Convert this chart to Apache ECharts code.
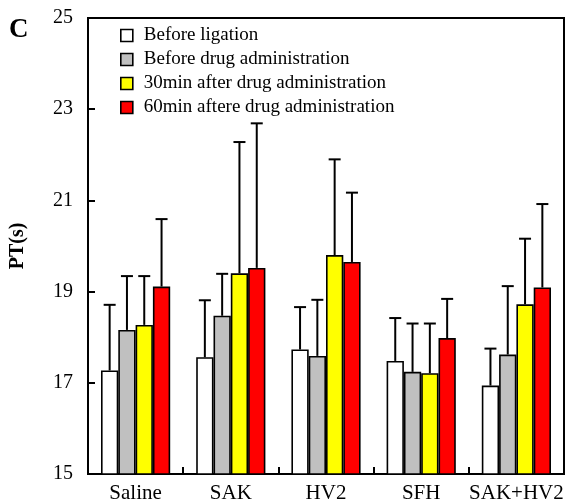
<!DOCTYPE html>
<html>
<head>
<meta charset="utf-8">
<script src="https://cdn.jsdelivr.net/npm/echarts@6/dist/echarts.min.js"></script>
<style>
  html, body { margin: 0; padding: 0; background: #fff; }
  #chart { width: 568px; height: 500px; }
</style>
</head>
<body>
<div id="chart"></div>
<script>
// Prothrombin time (PT) per treatment group, mean and upper SD
const groups = ['Saline', 'SAK', 'HV2', 'SFH', 'SAK+HV2'];
const seriesNames = [
  'Before ligation',
  'Before drug administration',
  '30min after drug administration',
  '60min aftere drug administration'
];
const beforeLigation   = [17.27, 17.56, 17.73, 17.48, 16.94];
const beforeDrug       = [18.16, 18.47, 17.59, 17.24, 17.62];
const after30          = [18.27, 19.40, 19.80, 17.21, 18.72];
const after60          = [19.11, 19.52, 19.65, 17.98, 19.09];
const sdBeforeLigation = [1.44, 1.25, 0.93, 0.94, 0.81];
const sdBeforeDrug     = [1.18, 0.92, 1.23, 1.06, 1.50];
const sdAfter30        = [1.07, 2.88, 2.10, 1.09, 1.44];
const sdAfter60        = [1.48, 3.17, 1.52, 0.86, 1.83];
const yTicks = [15, 17, 19, 21, 23, 25];

const means = [beforeLigation, beforeDrug, after30, after60];
const sds = [sdBeforeLigation, sdBeforeDrug, sdAfter30, sdAfter60];
const fills = ['#ffffff', '#c0c0c0', '#ffff00', '#ff0000'];
const BAR_W = 17.3;
const FONT = '"Liberation Serif", "Times New Roman", serif';

const chart = echarts.init(document.getElementById('chart'));

const barSeries = means.map((vals, i) => ({
  name: seriesNames[i],
  type: 'bar',
  data: vals,
  barWidth: BAR_W,
  barGap: '0%',
  itemStyle: { color: fills[i], borderColor: '#000', borderWidth: 1.6 },
  z: 2
}));

// Upward-only error whiskers with caps, centred on each bar
const errorSeries = means.map((vals, i) => ({
  name: seriesNames[i] + ' SD',
  type: 'custom',
  data: vals.map((v, k) => [k, v, v + sds[i][k]]),
  z: 3,
  renderItem: (params, api) => {
    const k = api.value(0);
    const base = api.coord([k, api.value(1)]);
    const top = api.coord([k, api.value(2)]);
    const x = base[0] + (i - 1.5) * BAR_W;
    const cap = 6;
    const style = { stroke: '#000', lineWidth: 2 };
    return {
      type: 'group',
      children: [
        { type: 'line', shape: { x1: x, y1: base[1], x2: x, y2: top[1] }, style },
        { type: 'line', shape: { x1: x - cap, y1: top[1], x2: x + cap, y2: top[1] }, style }
      ]
    };
  }
}));

chart.setOption({
  animation: false,
  backgroundColor: '#fff',
  textStyle: { fontFamily: FONT },
  title: {
    text: 'C',
    left: 4,
    top: 12,
    textStyle: { fontFamily: FONT, fontSize: 27, fontWeight: 'bold', color: '#000' }
  },
  legend: {
    orient: 'vertical',
    left: 120,
    top: 26,
    padding: 0,
    itemWidth: 12,
    itemHeight: 12,
    itemGap: 5,
    icon: 'rect',
    data: seriesNames,
    itemStyle: { borderColor: '#000', borderWidth: 1.6 },
    textStyle: { fontFamily: FONT, fontSize: 19, color: '#000', padding: [0, 0, 0, 6] }
  },
  grid: {
    left: 88,
    right: 4,
    top: 18,
    bottom: 26,
    outerBoundsMode: 'none',
    containLabel: false,
    show: true,
    borderColor: '#000',
    borderWidth: 2,
    backgroundColor: 'transparent'
  },
  xAxis: {
    type: 'category',
    data: groups,
    boundaryGap: true,
    axisLine: { lineStyle: { color: '#000', width: 2 } },
    axisTick: { show: true, inside: true, length: 7, alignWithLabel: false, lineStyle: { color: '#000', width: 2 } },
    axisLabel: { color: '#000', fontFamily: FONT, fontSize: 21, margin: 9, interval: 0 }
  },
  yAxis: {
    type: 'value',
    min: 15,
    max: 25,
    interval: 2,
    name: 'PT(s)',
    nameLocation: 'middle',
    nameGap: 60,
    nameRotate: 90,
    nameTextStyle: { fontFamily: FONT, fontSize: 20, fontWeight: 'bold', color: '#000' },
    axisLine: { show: true, lineStyle: { color: '#000', width: 2 } },
    axisTick: { show: true, inside: true, length: 7, lineStyle: { color: '#000', width: 2 } },
    axisLabel: {
      color: '#000', fontFamily: FONT, fontSize: 20, margin: 15,
      formatter: v => (yTicks.includes(v) ? String(v) : '')
    },
    splitLine: { show: false }
  },
  series: [...barSeries, ...errorSeries]
});
</script>
</body>
</html>
